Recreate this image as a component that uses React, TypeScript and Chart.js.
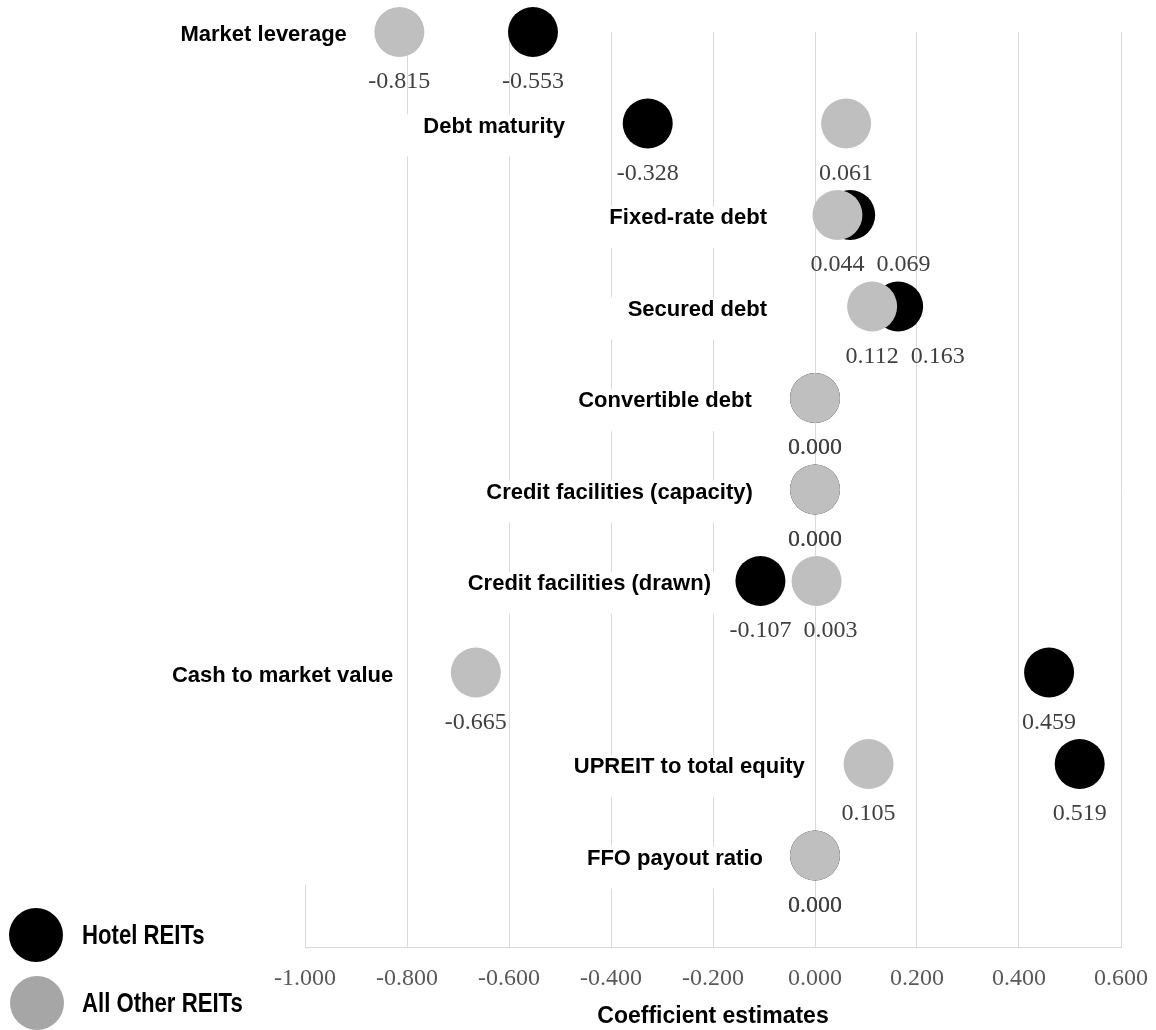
import React, { useEffect, useRef } from "react";
import { Chart, registerables } from "chart.js";

Chart.register(...registerables);

// ---- data ----
const categories = [
  "Market leverage",
  "Debt maturity",
  "Fixed-rate debt",
  "Secured debt",
  "Convertible debt",
  "Credit facilities (capacity)",
  "Credit facilities (drawn)",
  "Cash to market value",
  "UPREIT to total equity",
  "FFO payout ratio",
];
const hotelREITs = [-0.553, -0.328, 0.069, 0.163, 0.0, 0.0, -0.107, 0.459, 0.519, 0.0];
const otherREITs = [-0.815, 0.061, 0.044, 0.112, 0.0, 0.0, 0.003, -0.665, 0.105, 0.0];
// where each category label ends, in coefficient units
const labelEnds = [-0.918, -0.49, -0.094, -0.094, -0.124, -0.122, -0.204, -0.827, -0.02, -0.102];
const seriesNames = ["Hotel REITs", "All Other REITs"];
const xMin = -1.0;
const xMax = 0.6;
const xStep = 0.2;
const axisTitle = "Coefficient estimates";

// ---- styles ----
const BLACK = "#000000";
const GRAY = "#bfbfbf";
const LEGEND_GRAY = "#a6a6a6";
const GRID = "#d9d9d9";
const SANS = "'Liberation Sans', Arial, sans-serif";
const SERIF = "'Liberation Serif', 'Times New Roman', serif";

const rows = categories.map((_, i) => categories.length - i);

const annotationPlugin = {
  id: "annotations",
  beforeDatasetsDraw(chart: any) {
    const { ctx } = chart;
    const xs = chart.scales.x;
    const ys = chart.scales.y;
    ctx.save();
    // short corner segment at left edge
    const x0 = Math.round(xs.getPixelForValue(xMin)) + 0.5;
    ctx.strokeStyle = GRID;
    ctx.lineWidth = 1;
    ctx.beginPath();
    ctx.moveTo(x0, ys.getPixelForValue(0));
    ctx.lineTo(x0, ys.getPixelForValue(0.68));
    ctx.stroke();

    // category labels with white boxes
    ctx.font = `bold 22px ${SANS}`;
    ctx.textAlign = "right";
    ctx.textBaseline = "middle";
    categories.forEach((c, i) => {
      const xr = xs.getPixelForValue(labelEnds[i]);
      const yc = ys.getPixelForValue(rows[i]) + 3;
      const w = ctx.measureText(c).width;
      ctx.fillStyle = "#ffffff";
      ctx.fillRect(xr - w - 40, yc - 12, w + 43, 42);
      ctx.fillStyle = "#000000";
      ctx.fillText(c, xr, yc);
    });
    ctx.restore();
  },
  afterDatasetsDraw(chart: any) {
    const { ctx } = chart;
    const xs = chart.scales.x;
    const ys = chart.scales.y;
    ctx.save();
    ctx.font = `24px ${SERIF}`;
    ctx.fillStyle = "#404040";
    ctx.textAlign = "center";
    ctx.textBaseline = "middle";
    categories.forEach((_, i) => {
      const items = [hotelREITs[i], otherREITs[i]].map((v) => {
        const text = v.toFixed(3);
        return { text, x: xs.getPixelForValue(v), w: ctx.measureText(text).width };
      });
      items.sort((a, b) => a.x - b.x);
      for (let k = 1; k < items.length; k++) {
        if (items[k].text === items[k - 1].text) continue;
        const minX = items[k - 1].x + items[k - 1].w / 2 + 12 + items[k].w / 2;
        if (items[k].x < minX) items[k].x = minX;
      }
      const y = ys.getPixelForValue(rows[i]) + 50;
      items.forEach((it) => ctx.fillText(it.text, it.x, y));
    });
    ctx.restore();
  },
  afterDraw(chart: any) {
    const { ctx } = chart;
    ctx.save();
    const legendColors = [BLACK, LEGEND_GRAY];
    const centers = [
      { x: 36, y: 935 },
      { x: 37, y: 1003 },
    ];
    seriesNames.forEach((name, i) => {
      ctx.fillStyle = legendColors[i];
      ctx.beginPath();
      ctx.arc(centers[i].x, centers[i].y, 27, 0, Math.PI * 2);
      ctx.fill();
      ctx.fillStyle = "#000000";
      ctx.font = `bold 27px ${SANS}`;
      ctx.textAlign = "left";
      ctx.textBaseline = "middle";
      ctx.save();
      ctx.translate(82, centers[i].y + 2);
      ctx.scale(0.82, 1);
      ctx.fillText(name, 0, 0);
      ctx.restore();
    });
    ctx.restore();
  },
};

export default function App() {
  const canvasRef = useRef<HTMLCanvasElement | null>(null);

  useEffect(() => {
    if (!canvasRef.current) return;
    const chart = new Chart(canvasRef.current, {
      type: "scatter",
      data: {
        datasets: [
          {
            label: seriesNames[0],
            data: hotelREITs.map((v, i) => ({ x: v, y: rows[i] })),
            backgroundColor: BLACK,
            pointBackgroundColor: BLACK,
            pointBorderWidth: 0,
            pointRadius: 25,
            pointHoverRadius: 25,
            order: 2,
            clip: false,
          } as any,
          {
            label: seriesNames[1],
            data: otherREITs.map((v, i) => ({ x: v, y: rows[i] })),
            backgroundColor: GRAY,
            pointBackgroundColor: GRAY,
            pointBorderWidth: 0,
            pointRadius: 25,
            pointHoverRadius: 25,
            order: 1,
            clip: false,
          } as any,
        ],
      },
      options: {
        animation: false,
        responsive: false,
        events: [],
        layout: { padding: { left: 305, right: 35, top: 32, bottom: 0 } },
        plugins: {
          legend: { display: false },
          tooltip: { enabled: false },
        },
        scales: {
          x: {
            type: "linear",
            min: xMin,
            max: xMax,
            afterFit: (s: any) => {
              s.height = 83;
              s.paddingLeft = 0;
              s.paddingRight = 0;
            },
            ticks: {
              stepSize: xStep,
              padding: 17,
              color: "#595959",
              maxRotation: 0,
              autoSkip: false,
              font: { family: SERIF, size: 24, lineHeight: 1.2 },
              callback: (v: any) => (Math.abs(Number(v)) < 1e-9 ? 0 : Number(v)).toFixed(3),
            },
            grid: {
              color: (c: any) =>
                c.tick && Math.abs(c.tick.value - xMin) < 1e-9 ? "rgba(0,0,0,0)" : GRID,
              drawTicks: false,
              lineWidth: 1,
            },
            border: { display: true, color: GRID, width: 1 },
            title: {
              display: true,
              text: axisTitle,
              color: "#000000",
              font: { family: SANS, size: 23, weight: "bold", lineHeight: 1.2 },
              padding: { top: 0, bottom: 0 },
            },
          },
          y: {
            type: "linear",
            display: false,
            min: 0,
            max: categories.length,
          },
        },
      } as any,
      plugins: [annotationPlugin],
    });
    return () => chart.destroy();
  }, []);

  return (
    <div
      style={{
        position: "fixed",
        left: 0,
        top: 0,
        width: 1156,
        height: 1030,
        background: "#ffffff",
      }}
    >
      <canvas
        ref={canvasRef}
        width={1156}
        height={1030}
        style={{ width: 1156, height: 1030, display: "block" }}
      />
    </div>
  );
}
